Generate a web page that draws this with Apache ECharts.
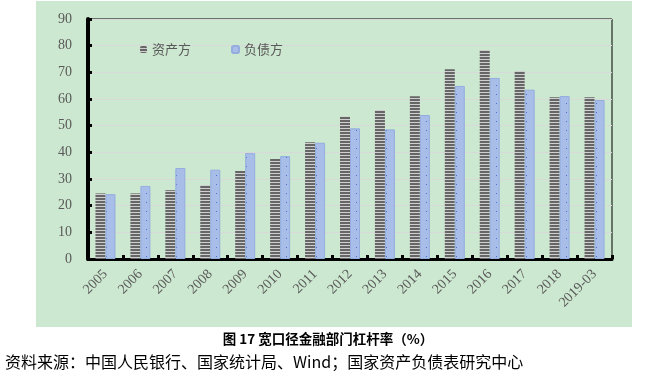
<!DOCTYPE html>
<html><head><meta charset="utf-8">
<script src="https://cdn.jsdelivr.net/npm/echarts@6/dist/echarts.min.js"></script>
<style>html,body{margin:0;padding:0;background:#fff}#c{width:656px;height:389px}</style>
</head><body><div id="c"></div>
<script>
const categories = ['2005','2006','2007','2008','2009','2010','2011','2012','2013','2014','2015','2016','2017','2018','2019-03'];
const assetValues = [24.6,24.6,25.8,27.7,33.0,37.5,43.8,53.4,55.9,61.0,71.2,78.4,70.5,60.7,60.7];
const liabilityValues = [24.3,27.4,34.1,33.5,39.7,38.6,43.6,49.0,48.6,54.0,64.9,67.9,63.5,61.1,59.6];
const yTicks = [0,10,20,30,40,50,60,70,80,90];

function stripePattern(){
  const c = document.createElement('canvas'); c.width = 4; c.height = 3;
  const g = c.getContext('2d');
  g.fillStyle = '#cfcfcf'; g.fillRect(0,0,4,3);
  g.fillStyle = '#666666'; g.fillRect(0,0,4,2);
  return c;
}
function dotPattern(){
  const c = document.createElement('canvas'); c.width = 10; c.height = 9;
  const g = c.getContext('2d');
  g.fillStyle = '#a8bde8'; g.fillRect(0,0,10,9);
  g.fillStyle = '#4a74cf'; g.fillRect(6,4,1,1);
  return c;
}
const chart = echarts.init(document.getElementById('c'), null, {renderer:'canvas'});
const serif = 'Liberation Serif';
const cjk = 'Noto Sans CJK SC';
chart.setOption({
  animation:false,
  graphic:[
    {type:'rect', z:-10, shape:{x:36,y:1,width:596,height:326}, style:{fill:'#cde8d0'}},
    {type:'text', left:'center', top:332, style:{text:'图 17 宽口径金融部门杠杆率（%）', font:'bold 13.5px "Noto Sans CJK SC"', fill:'#000'}},
    {type:'text', left:5, top:354, style:{text:'资料来源：中国人民银行、国家统计局、Wind；国家资产负债表研究中心', font:'16px "Noto Sans CJK SC"', fill:'#000'}}
  ],
  legend:{
    left:135, top:38, itemWidth:7, itemHeight:7, itemGap:40,
    textStyle:{color:'#595959', fontSize:13, fontFamily:cjk},
    data:['资产方','负债方']
  },
  grid:{left:88, right:44, top:19, bottom:130, show:true, borderColor:'#000', borderWidth:1, backgroundColor:'transparent'},
  xAxis:{
    type:'category', data:categories, boundaryGap:true,
    axisLine:{lineStyle:{color:'#000', width:3}},
    axisTick:{show:true, inside:true, length:4, lineStyle:{color:'#000', width:3}},
    axisLabel:{rotate:45, margin:13, color:'#595959', fontSize:14, fontFamily:serif, interval:0}
  },
  yAxis:{
    type:'value', min:0, max:90, interval:10,
    axisLine:{show:true, lineStyle:{color:'#000', width:4}},
    axisTick:{show:true, inside:true, length:4, lineStyle:{color:'#000', width:3}},
    axisLabel:{margin:16, color:'#595959', fontSize:14, fontFamily:serif,
      formatter:v=> yTicks.includes(v) ? String(v) : ''},
    splitLine:{lineStyle:{color:'#d9d9d9', width:1}}
  },
  series:[
    {name:'资产方', type:'bar', data:assetValues, barWidth:10, barGap:'0%',
      itemStyle:{color:{image:stripePattern(), repeat:'repeat'}}},
    {name:'负债方', type:'bar', data:liabilityValues, barWidth:10,
      itemStyle:{color:{image:dotPattern(), repeat:'repeat'}, borderColor:'#93addf', borderWidth:1}}
  ]
});
</script></body></html>
